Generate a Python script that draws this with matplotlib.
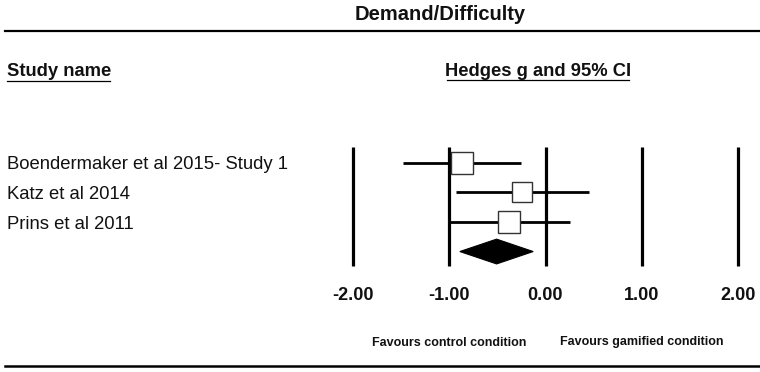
import matplotlib
matplotlib.use("Agg")
import matplotlib.pyplot as plt
import matplotlib.transforms as mtransforms
from matplotlib.patches import Polygon

# ---- data ----
studies = ["Boendermaker et al 2015- Study 1", "Katz et al 2014", "Prins et al 2011"]
hedges_g = [-0.865, -0.24, -0.375]
ci_lower = [-1.485, -0.935, -0.99]
ci_upper = [-0.25, 0.455, 0.25]
summary_g = -0.508
summary_lower = -0.89
summary_upper = -0.128
ticks = [-2.0, -1.0, 0.0, 1.0, 2.0]
tick_labels = ["-2.00", "-1.00", "0.00", "1.00", "2.00"]
title = "Demand/Difficulty"
col_left = "Study name"
col_right = "Hedges g and 95% CI"
favours = ["Favours control condition", "Favours gamified condition"]

# ---- layout ----
W, H = 760, 372
FONT = ["Liberation Sans", "DejaVu Sans"]
plt.rcParams["font.family"] = FONT
fig = plt.figure(figsize=(W / 100, H / 100), dpi=100)

def fx(x):
    return x / W

def fy(y):
    return 1 - y / H

# forest axes: x -2..2 spans pixels 353..738, rows span 147..266
AX_TOP, AX_BOT = 147, 266
ax = fig.add_axes([fx(353), fy(AX_BOT), (738 - 353) / W, (AX_BOT - AX_TOP) / H])
ax.set_xlim(-2, 2)
ax.set_ylim(3.49, -0.54)
ax.axis("off")

ax.vlines(ticks, -0.54, 3.49, colors="black", linewidth=2.3, clip_on=False, zorder=1)

marker_sizes = [16.5, 15.0, 16.5]
for i, (g, lo, hi) in enumerate(zip(hedges_g, ci_lower, ci_upper)):
    ax.plot([lo, hi], [i, i], color="black", linewidth=2.0, solid_capstyle="butt",
            zorder=2, clip_on=False)
    ax.plot([g], [i], marker="s", markersize=marker_sizes[i], markerfacecolor="white",
            markeredgecolor="#333333", markeredgewidth=1.0, zorder=3, clip_on=False)

row = len(studies)
hd = 0.42
diamond = Polygon([(summary_lower, row), (summary_g, row - hd),
                   (summary_upper, row), (summary_g, row + hd)],
                  closed=True, facecolor="black", edgecolor="black", linewidth=0.8,
                  zorder=3, clip_on=False)
ax.add_patch(diamond)

def axfrac(ypix):
    return (AX_BOT - ypix) / (AX_BOT - AX_TOP)

# tick labels
xt = ax.get_xaxis_transform()
for t, lab in zip(ticks, tick_labels):
    ax.text(t, axfrac(300.5), lab, transform=xt, ha="center", va="baseline",
            fontsize=13, fontweight="bold", color="#111111")

for t, lab in zip([-1.0, 1.0], favours):
    ax.text(t, axfrac(345.5), lab, transform=xt, ha="center", va="baseline",
            fontsize=9, fontweight="bold", color="#111111")

# study labels
lt = mtransforms.blended_transform_factory(fig.transFigure, ax.transData)
for i, name in enumerate(studies):
    ax.text(fx(7), i, name, transform=lt, ha="left", va="center_baseline",
            fontsize=13.3, color="#111111")

# header texts
fig.text(fx(440.5), fy(20), title, ha="center", va="baseline", fontsize=14.5,
         fontweight="bold", color="#111111")
fig.text(fx(7), fy(76), col_left, ha="left", va="baseline", fontsize=13.2,
         fontweight="bold", color="#111111")
fig.text(fx(538), fy(76), col_right, ha="center", va="baseline", fontsize=13.2,
         fontweight="bold", color="#111111")

# rules
fig.add_artist(plt.Line2D([fx(5), fx(760)], [fy(30.5), fy(30.5)], color="black", linewidth=1.6))
fig.add_artist(plt.Line2D([fx(5), fx(760)], [fy(366), fy(366)], color="black", linewidth=1.8))
fig.add_artist(plt.Line2D([fx(7), fx(110)], [fy(81), fy(81)], color="black", linewidth=0.9))
fig.add_artist(plt.Line2D([fx(447), fx(629)], [fy(80), fy(80)], color="black", linewidth=0.9))

fig.savefig("out.png", dpi=100, facecolor="white")
